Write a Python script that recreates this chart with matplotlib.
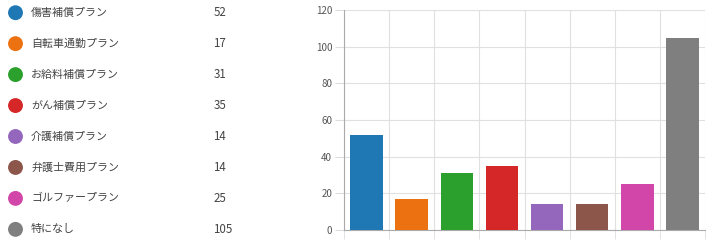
import matplotlib.pyplot as plt
import numpy as np

plt.rcParams['font.family'] = ['Noto Sans CJK JP', 'DejaVu Sans']

# data
plans = ['傷害補償プラン', '自転車通勤プラン', 'お給料補償プラン', 'がん補償プラン',
         '介護補償プラン', '弁護士費用プラン', 'ゴルファープラン', '特になし']
counts = [52, 17, 31, 35, 14, 14, 25, 105]
colors = ['#1f77b4', '#ec7211', '#2ca02c', '#d62728',
          '#9467bd', '#8c564b', '#d146a8', '#7f7f7f']
y_ticks = [0, 20, 40, 60, 80, 100, 120]

W, H = 716, 244
fig = plt.figure(figsize=(W / 100, H / 100), dpi=100)

# legend list on the left, laid out in pixel coordinates
lax = fig.add_axes([0, 0, 1, 1])
lax.set_xlim(0, W)
lax.set_ylim(H, 0)
lax.axis('off')
row_y = 12.7 + 30.95 * np.arange(len(plans))
lax.scatter(np.full(len(plans), 15.5), row_y, s=115, c=colors, linewidths=0)
for y, name, n in zip(row_y, plans, counts):
    lax.text(31, y, name, fontsize=7.9, color='#444444', va='center', ha='left')
    lax.text(213.5, y, str(n), fontsize=8.3, color='#444444', va='center', ha='left')

# bar chart on the right
ax = fig.add_axes([344 / W, 14 / H, 361 / W, 220 / H])
x = np.arange(len(plans))
ax.bar(x, counts, width=0.72, color=colors, zorder=3)
ax.set_xlim(-0.5, len(plans) - 0.5)
ax.set_ylim(0, 120)
ax.set_yticks(y_ticks)
ax.set_xticks([])
ax.set_xticks(np.arange(-0.5, len(plans)), minor=True)
ax.tick_params(axis='x', which='minor', length=6.5, color='#dddddd', labelbottom=False)
ax.tick_params(axis='y', length=6.5, color='#dddddd', labelsize=7, labelcolor='#555555', pad=2)
ax.grid(True, axis='y', color='#e0e0e0', linewidth=0.8, zorder=0)
ax.grid(True, axis='x', which='minor', color='#e0e0e0', linewidth=0.8, zorder=0)
for side in ['top', 'right']:
    ax.spines[side].set_visible(False)
for side in ['left', 'bottom']:
    ax.spines[side].set_color('#aaaaaa')
    ax.spines[side].set_linewidth(0.8)

plt.savefig('out.png', dpi=100)
